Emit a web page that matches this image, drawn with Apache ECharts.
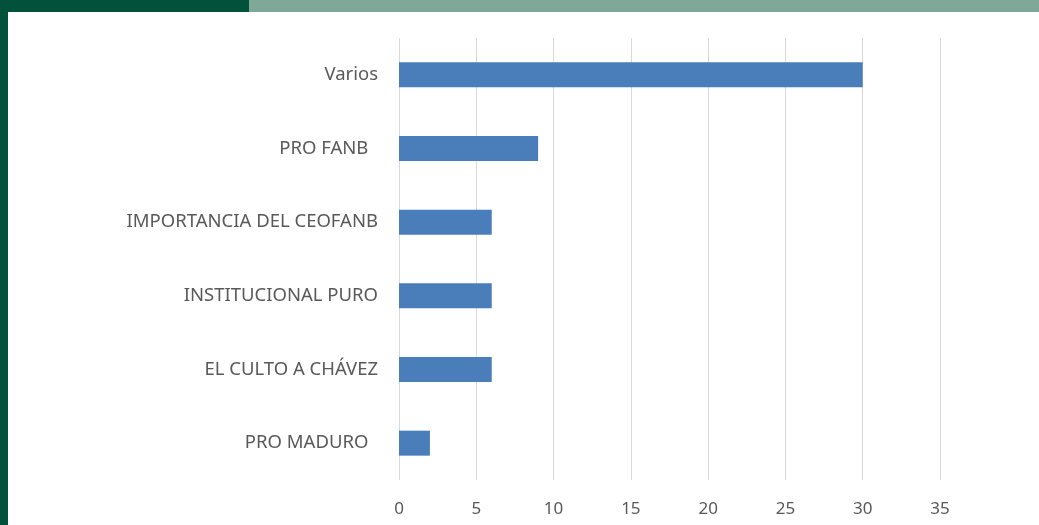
<!DOCTYPE html>
<html>
<head>
<meta charset="utf-8">
<script src="https://cdn.jsdelivr.net/npm/echarts@6/dist/echarts.min.js"></script>
<style>
  html, body { margin: 0; padding: 0; background: #ffffff; }
  #frame { position: relative; width: 1039px; height: 525px; overflow: hidden; }
  .band { position: absolute; }
  #chart { position: absolute; left: 0; top: 0; width: 1039px; height: 525px; }
</style>
</head>
<body>
<div id="frame">
  <div id="chart"></div>
  <!-- decorative slide frame -->
  <div class="band" style="left:0;top:0;width:8px;height:525px;background:#02513a;"></div>
  <div class="band" style="left:0;top:0;width:249px;height:12px;background:#02513a;"></div>
  <div class="band" style="left:249px;top:0;width:790px;height:12px;background:#7fa898;"></div>
</div>
<script>
  // values, top to bottom
  var categories = ["Varios", "PRO FANB  ", "IMPORTANCIA DEL CEOFANB", "INSTITUCIONAL PURO", "EL CULTO A CHÁVEZ", "PRO MADURO  "];
  var counts = [30, 9, 6, 6, 6, 2];
  var xTicks = { min: 0, max: 35, interval: 5 };

  var labelColor = "#595959";
  var gridColor = "#d9d9d9";
  var barColor = "#4a7ebb";
  var font = "'Noto Sans', 'Open Sans', sans-serif";

  var chart = echarts.init(document.getElementById("chart"), null, { renderer: "canvas" });
  chart.setOption({
    animation: false,
    textStyle: { fontFamily: font },
    grid: { left: 399, right: 99, top: 38, bottom: 45, containLabel: false },
    xAxis: {
      type: "value",
      min: xTicks.min, max: xTicks.max, interval: xTicks.interval,
      axisLine: { show: false },
      axisTick: { show: false },
      splitLine: { lineStyle: { color: gridColor, width: 1 } },
      axisLabel: { color: labelColor, fontSize: 17, margin: 21, fontFamily: font }
    },
    yAxis: {
      type: "category",
      inverse: true,
      data: categories,
      axisLine: { show: false },
      axisTick: { show: false },
      axisLabel: { color: labelColor, fontSize: 18.5, margin: 21, fontFamily: font }
    },
    series: [{
      type: "bar",
      data: counts,
      barWidth: 25,
      itemStyle: { color: barColor }
    }]
  });
</script>
</body>
</html>
